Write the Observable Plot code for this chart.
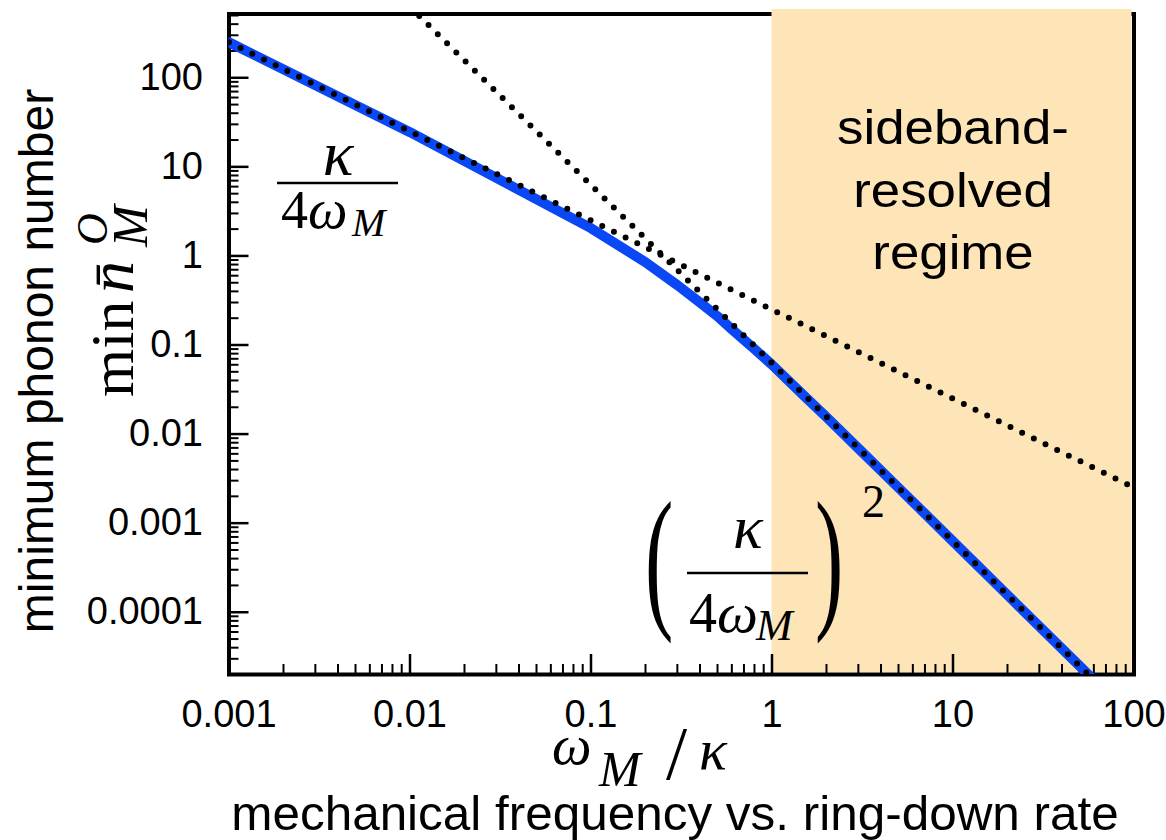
<!DOCTYPE html>
<html><head><meta charset="utf-8">
<script src="https://cdn.jsdelivr.net/npm/d3@7"></script>
<script src="https://cdn.jsdelivr.net/npm/@observablehq/plot@0.6"></script>
<style>body{margin:0;background:#fff}</style>
</head><body><div id="chart"></div>
<script>
// ---- data ----
const omegaOverKappa = [0.001, 0.01, 0.1, 0.2, 0.3, 0.4, 0.5, 0.6, 0.8, 1, 1.5, 2, 3, 5, 10, 20, 50, 100];
const minPhonon      = [250, 24.5, 2.05, 0.85, 0.47, 0.30, 0.21, 0.15, 0.09, 0.06, 0.027, 0.0155, 0.0069, 0.0025, 0.000625, 0.000156, 0.000025, 0.00000625];
const unresolvedX = [0.001, 100];
const unresolvedY = [250, 0.0025];
const resolvedX = [0.01, 100];
const resolvedY = [625, 0.00000625];
const regimeStart = [1];
const regimeEnd = [100];
const regimeLabel = ["sideband-\nresolved\nregime"];
const regimeLabelX = [10];
const xTicks = [0.001, 0.01, 0.1, 1, 10, 100];
const xTickLabels = ["0.001", "0.01", "0.1", "1", "10", "100"];
const yTicks = [0.0001, 0.001, 0.01, 0.1, 1, 10, 100];
const yTickLabels = ["0.0001", "0.001", "0.01", "0.1", "1", "10", "100"];
const xDomain = [0.001, 100];
const yDomain = [2.0e-5, 520];

// ---- derived tables ----
const curve = omegaOverKappa.map((x, i) => ({x, y: minPhonon[i]}));
const asym = [
  ...unresolvedX.map((x, i) => ({x, y: unresolvedY[i], k: "unresolved"})),
  ...resolvedX.map((x, i) => ({x, y: resolvedY[i], k: "resolved"}))
];
const regimes = regimeStart.map((s, i) => ({x1: s, x2: regimeEnd[i]}));
const minor = (dom) => {
  const out = [];
  for (let e = Math.floor(Math.log10(dom[0])); e <= Math.ceil(Math.log10(dom[1])); e++)
    for (let k = 2; k <= 9; k++) { const v = k * Math.pow(10, e); if (v >= dom[0] && v <= dom[1]) out.push(v); }
  return out;
};
const xLab = new Map(xTicks.map((t, i) => [t, xTickLabels[i]]));
const yLab = new Map(yTicks.map((t, i) => [t, yTickLabels[i]]));
const sans = "'Liberation Sans', Arial, sans-serif";

const chart = Plot.plot({
  width: 1166, height: 840,
  marginLeft: 228.5, marginRight: 32.5, marginTop: 13.5, marginBottom: 166,
  style: {fontFamily: sans, fontSize: "38px", background: "white", overflow: "visible"},
  x: {type: "log", domain: xDomain, label: null},
  y: {type: "log", domain: yDomain, label: null},
  marks: [
    Plot.frame({stroke: "black", strokeWidth: 4}),
    Plot.rect(regimes, {x1: "x1", x2: "x2", fill: "#fde5b8", insetTop: -4.5, insetRight: 2, insetBottom: 2}),
    Plot.text(regimeLabel, {x: regimeLabelX, frameAnchor: "top", lineAnchor: "top", dy: 86, fontSize: 48, lineHeight: 1.3, fill: "black"}),
    Plot.axisX(xTicks, {anchor: "bottom", tickSize: 0, tickPadding: 26, tickFormat: d => xLab.get(d), fontSize: 38, fill: "black"}),
    Plot.axisY(yTicks, {anchor: "left", tickSize: 0, tickPadding: 26, tickFormat: d => yLab.get(d), fontSize: 38, fill: "black"}),
    Plot.axisX(xTicks, {anchor: "bottom", tickSize: -20, strokeWidth: 2.5, fill: "none", stroke: "black"}),
    Plot.axisX(minor(xDomain), {anchor: "bottom", tickSize: -10, strokeWidth: 2, fill: "none", stroke: "black"}),
    Plot.axisY(yTicks, {anchor: "left", tickSize: -20, strokeWidth: 2.5, fill: "none", stroke: "black"}),
    Plot.axisY(minor(yDomain), {anchor: "left", tickSize: -10, strokeWidth: 2, fill: "none", stroke: "black"}),
    Plot.line(curve, {x: "x", y: "y", stroke: "#0a48f5", strokeWidth: 10, clip: true}),
    Plot.line(asym, {x: "x", y: "y", z: "k", stroke: "black", strokeWidth: 6, strokeDasharray: "0 13", strokeLinecap: "round", clip: true})
  ]
});
document.getElementById("chart").appendChild(chart);

const svg = d3.select(chart);
// the reference lettering of the regime label is a little wider
svg.selectAll('g[aria-label="text"] text').each(function () {
  this.setAttribute("transform", (this.getAttribute("transform") || "") + " scale(1.1,1)");
});

// ---- math annotations and axis titles ----
const serif = "'Liberation Serif', 'Times New Roman', serif";
// one <text> per formula; parts: [string, x, y, size, italic, anchor]
function formula(parent, parts, transform) {
  const t = parent.append("text").attr("font-family", serif).attr("fill", "black").attr("text-anchor", "start");
  if (transform) t.attr("transform", transform);
  for (const [s, x, y, size, italic, anchor] of parts)
    t.append("tspan").attr("x", x).attr("y", y).attr("font-size", size)
      .attr("text-anchor", anchor || "start")
      .attr("font-style", italic ? "italic" : "normal").text(s);
  return t;
}
function bar(parent, x1, x2, y) {
  parent.append("line").attr("x1", x1).attr("x2", x2).attr("y1", y).attr("y2", y).attr("stroke", "black").attr("stroke-width", 2.5);
}
function paren(parent, s, x, y) {
  parent.append("text").attr("transform", `translate(${x},${y}) scale(1,1.85)`).attr("text-anchor", "start")
    .attr("font-family", serif).attr("font-size", 85).attr("fill", "black").text(s);
}
// top-left fraction κ/(4ω_M)
{
  const g = svg.append("g");
  bar(g, 277, 398, 183);
  formula(g, [["κ", 338, 175, 64, true, "middle"], ["4", 281, 228, 54, false], ["ω", 308, 228, 56, true], ["M", 352, 236, 40, true]]);
}
// bottom (κ/(4ω_M))^2
{
  const g = svg.append("g");
  paren(g, "(", 645, 610);
  bar(g, 687, 808, 573);
  formula(g, [["κ", 748, 548, 62, true, "middle"], ["4", 689, 632, 56, false], ["ω", 717, 632, 58, true], ["M", 756, 640, 44, true], ["2", 862, 517, 46, false]]);
  paren(g, ")", 815, 610);
}
// x-axis math title ω_M / κ
formula(svg, [["ω", 552, 764, 56, true], ["M", 599, 786, 50, true], ["/", 666, 779, 76, false], ["κ", 699, 769, 58, true]]);
// x-axis text title
svg.append("text").attr("transform", "translate(675,830) scale(1.03,1)")
  .attr("font-family", sans).attr("font-size", 48).attr("text-anchor", "middle").attr("fill", "black")
  .text("mechanical frequency vs. ring-down rate");
// y-axis text title
svg.append("text").attr("transform", "translate(53,361) rotate(-90)")
  .attr("font-family", sans).attr("font-size", 48).attr("text-anchor", "middle").attr("fill", "black")
  .text("minimum phonon number");
// y-axis math title  min n̄_M^O
formula(svg, [["min", 0, 0, 62, false], ["n\u0304", 104, 0, 64, true], ["M", 150, 14, 50, true], ["O", 152, -26, 44, true]],
  "translate(133,397) rotate(-90)");
</script>
</body></html>
